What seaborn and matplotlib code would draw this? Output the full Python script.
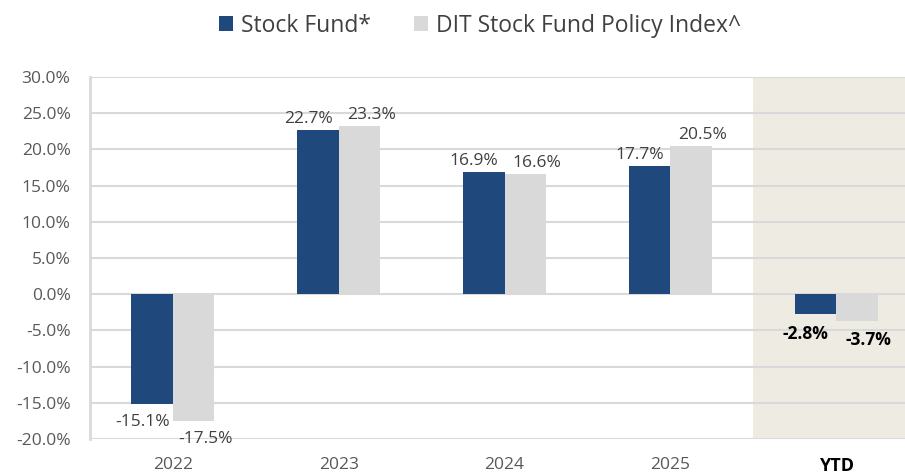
import matplotlib
matplotlib.use("Agg")
from matplotlib import pyplot as plt
import seaborn as sns
import pandas as pd

periods = ["2022", "2023", "2024", "2025", "YTD"]
stock_fund = [-15.1, 22.7, 16.9, 17.7, -2.8]
policy_index = [-17.5, 23.3, 16.6, 20.5, -3.7]
series_names = ["Stock Fund*", "DIT Stock Fund Policy Index^"]
y_ticks = [-20, -15, -10, -5, 0, 5, 10, 15, 20, 25, 30]

df = pd.DataFrame({
    "period": periods * 2,
    "value": stock_fund + policy_index,
    "series": [series_names[0]] * len(periods) + [series_names[1]] * len(periods),
})

sns.set_style("white")
plt.rcParams["font.family"] = ["Open Sans", "DejaVu Sans"]

fig = plt.figure(figsize=(9.05, 4.74), dpi=100)
ax = fig.add_axes([90 / 905, 1 - 439 / 474, 815 / 905, (439 - 77) / 474])

palette = {series_names[0]: "#1f497d", series_names[1]: "#d9d9d9"}
sns.barplot(data=df, x="period", y="value", hue="series", palette=palette,
            width=0.5, saturation=1, linewidth=0, ax=ax, zorder=3)

# YTD shaded panel
ax.axvspan(3.5, 4.6, color="#eeebe2", zorder=0, lw=0)

ax.set_ylim(-20, 30)
ax.set_xlim(-0.5, 4.415)
ax.set_yticks(y_ticks)
ax.set_yticklabels([f"{t:.1f}%" for t in y_ticks], color="#595959", fontsize=12.5)
ax.yaxis.grid(True, color="#d9d9d9", lw=1.5, zorder=1)
ax.set_axisbelow(True)
ax.tick_params(axis="y", length=0, pad=14)
ax.tick_params(axis="x", length=0, pad=13, labelsize=12.5, labelcolor="#595959")
for lbl in ax.get_xticklabels():
    if lbl.get_text() == "YTD":
        lbl.set_fontweight("bold")
        lbl.set_color("black")
        lbl.set_fontsize(13)
ax.set_xlabel("")
ax.set_ylabel("")
for s in ["top", "right", "bottom"]:
    ax.spines[s].set_visible(False)
ax.spines["left"].set_color("#d9d9d9")
ax.spines["left"].set_linewidth(2)

# data labels, nudged apart like the original
x_shift = [-7, 8.5]
for k, cont in enumerate(ax.containers):
    for i, (bar, v) in enumerate(zip(cont.patches, cont.datavalues)):
        cx = bar.get_x() + bar.get_width() / 2
        ytd = periods[i] == "YTD"
        dy = 2 if v >= 0 else -7.5
        ax.annotate(f"{v:.1f}%", (cx, v), xytext=(x_shift[k], dy),
                    textcoords="offset points", ha="center",
                    va="bottom" if v >= 0 else "top", fontsize=12.5,
                    fontweight="bold" if ytd else "normal",
                    color="black" if ytd else "#404040", zorder=5)

leg = ax.legend(loc="upper center", bbox_to_anchor=(390 / 815, 1 + 84 / 362),
                ncol=2, frameon=False, fontsize=16.5, handlelength=0.6,
                handleheight=0.6, columnspacing=1.9, handletextpad=0.35)
for t in leg.get_texts():
    t.set_color("#404040")

fig.savefig("out.png", dpi=100)
